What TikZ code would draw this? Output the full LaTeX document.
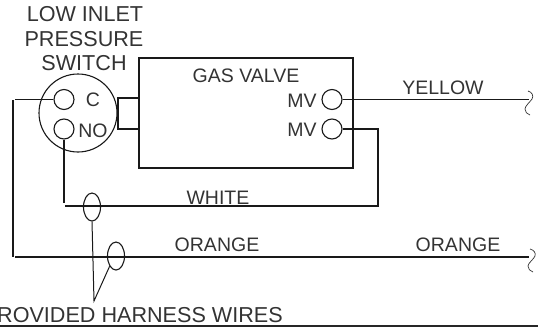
\documentclass[tikz,border=0pt]{standalone}
\usetikzlibrary{shapes.geometric}
\usepackage{fontspec}
\setmainfont{Liberation Sans}
\tikzset{
 wire/.style={line width=1.3pt,black!90},
 thin wire/.style={line width=1pt,black!90},
 lbl/.style={inner sep=0pt,font=\fontsize{19.5}{22}\selectfont,text=black!80},
 biglbl/.style={lbl,font=\fontsize{21.6}{24}\selectfont},
 term/.style={circle,draw=black!90,line width=1.1pt,minimum size=20pt,inner sep=0pt},
 tag/.style={draw=black!90,line width=1.1pt,ellipse,minimum width=17pt,minimum height=28pt,inner sep=0pt},
 squig/.style={line width=0.7pt,black!80},
}
\begin{document}
\begin{tikzpicture}[x=1pt,y=-1pt]
\useasboundingbox (0,0) rectangle (538,330);
\node[circle,draw=black!90,line width=1.1pt,minimum size=78pt,inner sep=0pt] (sw) at (78,113) {};
\node[term] (c) at (64,99.5) {};
\node[term] (no) at (64,129) {};
\node[draw=black!90,line width=1.2pt,minimum width=21pt,minimum height=31pt,inner sep=0pt] (link) at (128.5,113.5) {};
\node[draw=black!90,line width=1.2pt,minimum width=214pt,minimum height=110pt,inner sep=0pt] (valve) at (246,113) {};
\node[term] (mv1) at (332,99.5) {};
\node[term] (mv2) at (332,129) {};
\node[biglbl] at (85,14.5) {LOW INLET};
\node[biglbl] at (84,39) {PRESSURE};
\node[biglbl] at (84,63) {SWITCH};
\node[lbl] at (93,100) {C};
\node[lbl] at (93,131) {NO};
\node[lbl] at (246,75.5) {GAS VALVE};
\node[lbl] at (302,101) {MV};
\node[lbl] at (302,130) {MV};
\node[lbl] at (443,88) {YELLOW};
\node[lbl] at (218,198) {WHITE};
\node[lbl] at (217,245) {ORANGE};
\node[lbl] at (458,245) {ORANGE};
\node[biglbl,anchor=east] at (283,315) {ROVIDED HARNESS WIRES};
\coordinate (yEnd) at (529,99.5);
\coordinate (oEnd) at (529,257);
\coordinate (wa) at (64,203);
\coordinate (wb) at (65,206);
\coordinate (wc) at (378,206);
\coordinate (wd) at (378,129);
\coordinate (oa) at (13,100);
\coordinate (ob) at (13,257);
\coordinate (oc) at (15,257);
\coordinate (cEnd) at (15,99.5);
\draw[wire] (mv1.east) -- (yEnd);
\draw[wire] (mv2.east) -- (wd) -- (wc) -- (wb);
\draw[wire] (no.south) -- (wa);
\draw[wire] (c.west) -- (cEnd);
\draw[wire] (oa) -- (ob);
\draw[wire] (oc) -- (oEnd);
\node[tag] (e1) at (92,207) {};
\node[tag] (e2) at (116,256) {};
\coordinate (tip) at (94,301);
\draw[thin wire] (e1.south) -- (tip) -- (e2.south west);
\draw[squig] (528,91) .. controls (532,92) and (534,96) .. (532,99) .. controls (530,102) and (525,106) .. (525,109) .. controls (525,112) and (527,114) .. (530,115);
\draw[squig] (530,249) .. controls (534,250) and (536,253) .. (535,256) .. controls (534,259) and (528,263) .. (528,266) .. controls (528,269) and (530,271) .. (533,272);
\draw[line width=2pt,black!85] (0,325.5) -- (538,325.5);
\end{tikzpicture}
\end{document}
